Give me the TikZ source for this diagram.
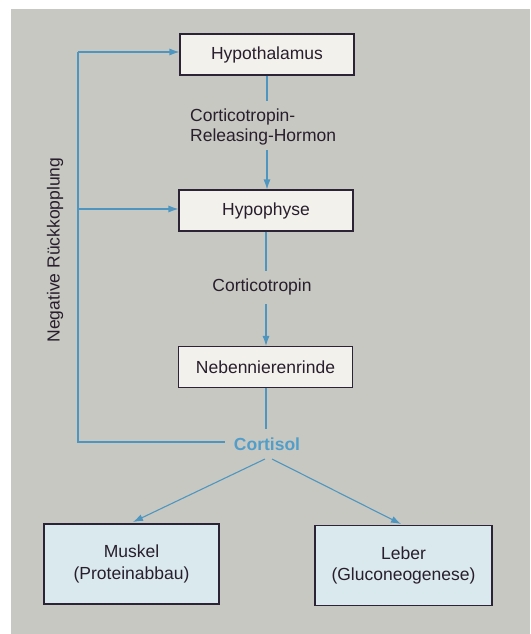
\documentclass[tikz,border=0pt]{standalone}
\usepackage{fontspec}
\setmainfont{Liberation Sans}
\usetikzlibrary{arrows.meta}
\definecolor{bg}{RGB}{200,200,194}
\definecolor{lineblue}{RGB}{78,150,192}
\definecolor{textblue}{RGB}{82,158,200}
\definecolor{boxtop}{RGB}{243,241,236}
\definecolor{boxlow}{RGB}{218,233,237}
\definecolor{boxline}{RGB}{45,35,55}
\definecolor{ink}{RGB}{40,30,45}
\tikzset{
  organ/.style={draw=boxline, line width=1.1pt, fill=boxtop, minimum width=174pt, minimum height=41pt, inner sep=0pt, text=ink, font=\fontsize{17.5}{20}\selectfont},
  target/.style={organ, fill=boxlow, minimum height=80pt, align=center, font=\fontsize{17.5}{21.5}\selectfont},
  lbl/.style={text=ink, font=\fontsize{17.5}{20}\selectfont, inner sep=1pt},
  conn/.style={draw=lineblue, line width=1.1pt},
  arr/.style={conn, -{Latex[length=10pt,width=7pt]}}
}
\begin{document}
\begin{tikzpicture}[x=1pt,y=-1pt]
\useasboundingbox (0,0) rectangle (530,634);
\fill[white] (0,0) rectangle (530,634);
\fill[bg] (11,9) rectangle (530,634);
\node[organ] (hyth) at (267,54.5) {Hypothalamus};
\node[organ] (hyph) at (266,210.5) {Hypophyse};
\node[organ] (nnr) at (265.5,367) {Nebennierenrinde};
\node[target, minimum width=175pt] (musk) at (131.5,564) {Muskel\\(Proteinabbau)};
\node[target, minimum width=177pt] (leb) at (403.5,565.5) {Leber\\(Gluconeogenese)};
\node[lbl, align=left, anchor=west, font=\fontsize{17.5}{20}\selectfont] (crh) at (189,127) {Corticotropin-\\Releasing-Hormon};
\node[lbl] (ct) at (262,287) {Corticotropin};
\node[lbl, text=textblue, font=\bfseries\fontsize{17.5}{20}\selectfont] (cort) at (267,444) {Cortisol};
\node[lbl, rotate=90] (neg) at (55,250) {Negative Rückkopplung};
\coordinate (fbtop) at (78,52);
\coordinate (fbmid) at (78,209);
\coordinate (fbbot) at (78,442);
\coordinate (cortin) at (225,442);
% main chain
\draw[conn] (hyth.south -| 267,0) -- (267,101);
\draw[arr] (267,150) -- (hyph.north -| 267,0);
\draw[conn] (hyph.south -| 266,0) -- (266,271);
\draw[arr] (266,304) -- (nnr.north -| 266,0);
\draw[conn] (nnr.south -| 266,0) -- (266,429);
% feedback
\draw[conn] (cortin) -- (fbbot) -- (fbtop);
\draw[arr] (fbtop) -- (hyth.west |- fbtop);
\draw[arr] (fbmid) -- (hyph.west |- fbmid);
% effects
\draw[arr] (265,459) -- (133,522);
\draw[arr] (272,459) -- (401,524);
\end{tikzpicture}
\end{document}
